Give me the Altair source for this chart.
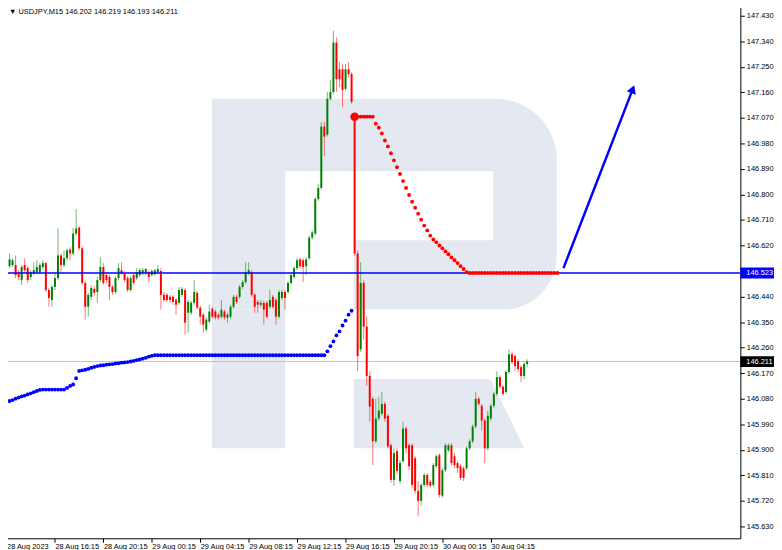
import json
import altair as alt
import pandas as pd

# ---------------- data ----------------
symbol_text = "▼ USDJPY,M15  146.202 146.219 146.193 146.211"

time_labels = ["28 Aug 2023", "28 Aug 16:15", "28 Aug 20:15", "29 Aug 00:15",
               "29 Aug 04:15", "29 Aug 08:15", "29 Aug 12:15", "29 Aug 16:15",
               "29 Aug 20:15", "30 Aug 00:15", "30 Aug 04:15"]
label_bars = [0, 16, 32, 48, 64, 80, 96, 112, 128, 144, 160]

price_ticks = [147.430, 147.340, 147.250, 147.160, 147.070, 146.980, 146.890,
               146.800, 146.710, 146.620, 146.440, 146.350, 146.260, 146.170,
               146.080, 145.990, 145.900, 145.810, 145.720, 145.630]

opens = [
    146.585, 146.547, 146.551, 146.551, 146.526, 146.498, 146.551, 146.540, 146.509, 146.523,
    146.526, 146.526, 146.544, 146.558, 146.463, 146.428, 146.474, 146.505, 146.585, 146.551,
    146.575, 146.606, 146.592, 146.662, 146.683, 146.610, 146.488, 146.404, 146.439, 146.467,
    146.456, 146.498, 146.544, 146.516, 146.509, 146.474, 146.456, 146.505, 146.533, 146.523,
    146.505, 146.463, 146.516, 146.505, 146.516, 146.523, 146.523, 146.526, 146.516, 146.519,
    146.526, 146.530, 146.446, 146.446, 146.439, 146.439, 146.428, 146.418, 146.446, 146.463,
    146.383, 146.383, 146.418, 146.453, 146.401, 146.376, 146.324, 146.352, 146.397, 146.387,
    146.376, 146.369, 146.387, 146.366, 146.369, 146.404, 146.439, 146.439, 146.474, 146.491,
    146.523, 146.526, 146.446, 146.421, 146.411, 146.418, 146.418, 146.404, 146.439, 146.428,
    146.369, 146.435, 146.456, 146.456, 146.488, 146.509, 146.540, 146.571, 146.568, 146.547,
    146.575, 146.648, 146.662, 146.784, 146.823, 147.039, 147.011, 147.137, 147.161, 147.335,
    147.241, 147.241, 147.172, 147.241, 147.224, 147.074, 146.592, 146.254, 146.488, 146.334,
    146.160, 146.080, 145.930, 146.010, 146.027, 146.062, 146.020, 145.916, 145.794, 145.895,
    145.790, 145.860, 145.975, 145.916, 145.916, 145.870, 145.755, 145.720, 145.776, 145.811,
    145.787, 145.776, 145.842, 145.881, 145.738, 145.828, 145.898, 145.916, 145.877, 145.853,
    145.842, 145.835, 145.835, 145.905, 145.930, 145.982, 146.080, 146.055, 146.003, 145.905,
    146.010, 146.055, 146.097, 146.156, 146.122, 146.104, 146.174, 146.237, 146.230, 146.212,
    146.191, 146.160, 146.202]

closes = [
    146.526, 146.571, 146.568, 146.516, 146.509, 146.544, 146.533, 146.498, 146.526, 146.533,
    146.544, 146.551, 146.558, 146.463, 146.435, 146.474, 146.505, 146.585, 146.551, 146.575,
    146.603, 146.592, 146.662, 146.680, 146.610, 146.488, 146.404, 146.446, 146.470, 146.453,
    146.498, 146.544, 146.488, 146.498, 146.474, 146.456, 146.505, 146.540, 146.523, 146.498,
    146.463, 146.505, 146.488, 146.526, 146.533, 146.533, 146.537, 146.509, 146.530, 146.533,
    146.537, 146.446, 146.428, 146.428, 146.428, 146.421, 146.411, 146.463, 146.467, 146.348,
    146.421, 146.418, 146.456, 146.401, 146.369, 146.341, 146.359, 146.387, 146.369, 146.366,
    146.366, 146.394, 146.366, 146.376, 146.404, 146.439, 146.421, 146.474, 146.491, 146.526,
    146.533, 146.446, 146.404, 146.411, 146.418, 146.394, 146.369, 146.428, 146.404, 146.369,
    146.456, 146.456, 146.435, 146.488, 146.516, 146.540, 146.568, 146.547, 146.544, 146.571,
    146.648, 146.666, 146.784, 146.823, 147.039, 147.004, 147.137, 147.161, 147.335, 147.206,
    147.206, 147.168, 147.241, 147.224, 147.126, 146.592, 146.230, 146.488, 146.334, 146.160,
    146.052, 145.930, 146.010, 146.038, 146.062, 146.010, 145.912, 145.794, 145.888, 145.825,
    145.853, 145.975, 145.905, 145.842, 145.776, 145.755, 145.720, 145.776, 145.811, 145.776,
    145.773, 145.846, 145.877, 145.741, 145.828, 145.916, 145.916, 145.853, 145.846, 145.835,
    145.801, 145.801, 145.905, 145.930, 145.982, 146.080, 146.062, 146.003, 145.905, 146.020,
    146.055, 146.097, 146.156, 146.122, 146.097, 146.174, 146.237, 146.209, 146.195, 146.184,
    146.160, 146.202, 146.211]

highs = [
    146.603, 146.592, 146.575, 146.585, 146.533, 146.551, 146.575, 146.547, 146.533, 146.561,
    146.568, 146.558, 146.568, 146.561, 146.470, 146.481, 146.526, 146.680, 146.592, 146.603,
    146.610, 146.613, 146.683, 146.749, 146.687, 146.617, 146.495, 146.453, 146.481, 146.477,
    146.509, 146.578, 146.558, 146.526, 146.516, 146.481, 146.512, 146.558, 146.561, 146.530,
    146.512, 146.512, 146.523, 146.540, 146.540, 146.540, 146.540, 146.533, 146.537, 146.537,
    146.551, 146.540, 146.456, 146.453, 146.446, 146.446, 146.435, 146.474, 146.474, 146.470,
    146.428, 146.425, 146.498, 146.460, 146.408, 146.383, 146.366, 146.411, 146.404, 146.394,
    146.383, 146.428, 146.394, 146.383, 146.411, 146.446, 146.446, 146.481, 146.498, 146.561,
    146.561, 146.533, 146.453, 146.428, 146.428, 146.425, 146.425, 146.463, 146.446, 146.435,
    146.463, 146.463, 146.463, 146.495, 146.523, 146.547, 146.575, 146.578, 146.575, 146.578,
    146.655, 146.673, 146.791, 146.837, 147.056, 147.056, 147.161, 147.203, 147.377, 147.353,
    147.266, 147.259, 147.259, 147.266, 147.231, 147.081, 146.603, 146.561, 146.498, 146.369,
    146.177, 146.087, 146.080, 146.087, 146.104, 146.069, 146.027, 145.923, 145.905, 145.905,
    145.863, 145.999, 145.982, 145.923, 145.923, 145.877, 145.790, 145.783, 145.818, 145.818,
    145.794, 145.853, 145.884, 145.888, 145.835, 145.923, 145.923, 145.923, 145.888, 145.860,
    145.849, 145.842, 145.912, 145.937, 145.989, 146.104, 146.087, 146.062, 146.010, 146.038,
    146.062, 146.104, 146.177, 146.163, 146.128, 146.181, 146.254, 146.247, 146.237, 146.219,
    146.198, 146.209, 146.219]

lows = [
    146.516, 146.540, 146.544, 146.505, 146.498, 146.481, 146.526, 146.488, 146.498, 146.516,
    146.519, 146.519, 146.537, 146.456, 146.404, 146.404, 146.463, 146.498, 146.523, 146.544,
    146.568, 146.568, 146.585, 146.655, 146.603, 146.481, 146.359, 146.369, 146.428, 146.442,
    146.418, 146.491, 146.481, 146.488, 146.428, 146.446, 146.449, 146.498, 146.516, 146.491,
    146.456, 146.456, 146.481, 146.498, 146.509, 146.516, 146.516, 146.491, 146.509, 146.512,
    146.519, 146.394, 146.421, 146.421, 146.418, 146.411, 146.376, 146.411, 146.439, 146.306,
    146.313, 146.376, 146.411, 146.394, 146.341, 146.313, 146.317, 146.345, 146.362, 146.359,
    146.359, 146.362, 146.359, 146.348, 146.362, 146.397, 146.414, 146.432, 146.467, 146.484,
    146.516, 146.439, 146.383, 146.383, 146.404, 146.341, 146.362, 146.397, 146.397, 146.341,
    146.362, 146.428, 146.394, 146.449, 146.481, 146.502, 146.533, 146.540, 146.491, 146.516,
    146.568, 146.641, 146.655, 146.777, 146.816, 146.934, 147.004, 147.130, 147.154, 147.161,
    147.178, 147.109, 147.165, 147.213, 147.119, 146.585, 146.177, 146.244, 146.289, 146.125,
    145.999, 145.846, 145.923, 146.003, 146.020, 145.999, 145.905, 145.783, 145.773, 145.815,
    145.780, 145.853, 145.888, 145.828, 145.766, 145.745, 145.668, 145.703, 145.769, 145.769,
    145.766, 145.769, 145.835, 145.731, 145.731, 145.821, 145.891, 145.842, 145.835, 145.818,
    145.794, 145.790, 145.828, 145.898, 145.923, 145.975, 146.055, 145.968, 145.853, 145.898,
    146.003, 146.048, 146.090, 146.115, 146.090, 146.097, 146.167, 146.202, 146.177, 146.174,
    146.139, 146.149, 146.193]

# blue dotted indicator, one value per bar from bar 0
blue_dots = [
    146.068, 146.072, 146.075, 146.080, 146.084, 146.088, 146.091, 146.095, 146.099, 146.103,
    146.107, 146.111, 146.112, 146.112, 146.112, 146.112, 146.112, 146.112, 146.112, 146.112,
    146.118, 146.125, 146.130, 146.152, 146.178, 146.180, 146.182, 146.185, 146.189, 146.192,
    146.195, 146.197, 146.198, 146.200, 146.201, 146.202, 146.204, 146.205, 146.207, 146.208,
    146.209, 146.211, 146.213, 146.216, 146.218, 146.221, 146.224, 146.228, 146.231] + \
    [146.233] * 57 + [
    146.247, 146.265, 146.282, 146.303, 146.317, 146.338, 146.355, 146.376, 146.390]

# red dotted indicator, one value per bar from bar 115
red_start = 115
red_dots = [147.074] * 7 + [
    147.049, 147.035, 147.015, 146.990, 146.969, 146.945, 146.920, 146.896, 146.872, 146.847,
    146.823, 146.798, 146.774, 146.753, 146.732, 146.711, 146.690, 146.673, 146.655, 146.641,
    146.631, 146.620, 146.610, 146.599, 146.589, 146.578, 146.568, 146.558, 146.547, 146.537,
    146.526] + [146.523] * 30

level_line = 146.523
last_price = 146.211

arrow_bars = [184.0, 206.9]
arrow_prices = [146.540, 147.171]

# chart-shift marker at the top (last bar)
shift_marker = {"i": 172.1, "p": 147.463}

# watermark "R" outline (bar index / price units)
wm_bowl = {"x0": 67.9, "x1": 181.8, "y0": 147.137, "y1": 146.394}
wm_holes = [(92.1, 160.8, 146.882, 146.638), (92.1, 114.7, 146.638, 146.394)]
wm_stem = (67.9, 92.1, 146.394, 145.905)
wm_leg_y = [146.149, 145.905]
wm_leg_right = [159.8, 171.1]
wm_leg_left = [114.7, 114.7]

# ---------------- build tables ----------------
n = len(opens)
candles = pd.DataFrame({"i": list(range(n)), "open": opens, "close": closes,
                        "high": highs, "low": lows})
candles["dir"] = ["up" if c >= o else "down" for o, c in zip(opens, closes)]

blue_df = pd.DataFrame({"i": list(range(len(blue_dots))), "p": blue_dots})
red_df = pd.DataFrame({"i": [red_start + k for k in range(len(red_dots))], "p": red_dots})
arrow_df = pd.DataFrame({"i": arrow_bars, "p": arrow_prices})

GREEN = "#008000"
RED = "#ff0000"
WM = "#e4e9f1"
FONT = "Liberation Sans"

xs = alt.Scale(domain=[0.161, 240.806], nice=False, zero=False)
ys = alt.Scale(domain=[145.588, 147.475], nice=False, zero=False)

label_expr = json.dumps(time_labels) + "[round(datum.value / 16)]"
x_axis = alt.Axis(values=label_bars, labelExpr=label_expr, orient="bottom",
                  tickSize=4, labelAlign="left", labelPadding=0,
                  labelFontSize=7.5, labelFont=FONT, labelColor="#000000",
                  domainColor="#000000", tickColor="#000000", grid=False,
                  title=None, labelOverlap=False, labelFlush=False, labelBound=False)
y_axis = alt.Axis(values=price_ticks, format=".3f", orient="right", tickSize=4,
                  labelPadding=2, labelFontSize=7.5, labelFont=FONT,
                  labelColor="#000000", domainColor="#000000", tickColor="#000000",
                  grid=False, title=None)


def X(field):
    return alt.X(field, scale=xs, axis=x_axis, title=None)


def Y(field):
    return alt.Y(field, scale=ys, axis=y_axis, title=None)


color_scale = alt.Scale(domain=["up", "down"], range=[GREEN, RED])

# watermark
bowl = alt.Chart(pd.DataFrame([wm_bowl])).mark_rect(
    color=WM, cornerRadiusTopRight=62, cornerRadiusBottomRight=55
).encode(x=X("x0:Q"), x2="x1:Q", y=Y("y0:Q"), y2="y1:Q")

holes = alt.Chart(pd.DataFrame(wm_holes, columns=["x0", "x1", "y0", "y1"])).mark_rect(
    color="#ffffff").encode(x=X("x0:Q"), x2="x1:Q", y=Y("y0:Q"), y2="y1:Q")

stem = alt.Chart(pd.DataFrame([wm_stem], columns=["x0", "x1", "y0", "y1"])).mark_rect(
    color=WM).encode(x=X("x0:Q"), x2="x1:Q", y=Y("y0:Q"), y2="y1:Q")

leg = alt.Chart(pd.DataFrame({"y": wm_leg_y, "xr": wm_leg_right, "xl": wm_leg_left})).mark_area(
    color=WM, orient="horizontal", opacity=1).encode(
    y=Y("y:Q"), x=X("xr:Q"), x2="xl:Q")

grey_line = alt.Chart(pd.DataFrame({"p": [last_price]})).mark_rule(
    color="#c4c4c4", strokeWidth=1).encode(y=Y("p:Q"))

wicks = alt.Chart(candles).mark_rule(strokeWidth=1, opacity=0.55).encode(
    x=X("i:Q"), y=Y("low:Q"), y2="high:Q",
    color=alt.Color("dir:N", scale=color_scale, legend=None))

bodies = alt.Chart(candles).mark_bar(size=2).encode(
    x=X("i:Q"), y=Y("open:Q"), y2="close:Q",
    color=alt.Color("dir:N", scale=color_scale, legend=None))

blue_line = alt.Chart(pd.DataFrame({"p": [level_line]})).mark_rule(
    color="#0000ff", strokeWidth=1.5).encode(y=Y("p:Q"))

blue_pts = alt.Chart(blue_df).mark_circle(size=15, color="#0000ff", opacity=1).encode(
    x=X("i:Q"), y=Y("p:Q"))

red_pts = alt.Chart(red_df).mark_circle(size=15, color=RED, opacity=1).encode(
    x=X("i:Q"), y=Y("p:Q"))

red_big = alt.Chart(red_df.head(1)).mark_circle(size=75, color=RED, opacity=1).encode(
    x=X("i:Q"), y=Y("p:Q"))

arrow_shaft = alt.Chart(arrow_df).mark_line(color="#0000ff", strokeWidth=2.5).encode(
    x=X("i:Q"), y=Y("p:Q"))

arrow_head = alt.Chart(arrow_df.tail(1)).mark_point(
    shape="triangle-up", filled=True, size=95, angle=21, color="#0000ff", opacity=1
).encode(x=X("i:Q"), y=Y("p:Q"))

marker = alt.Chart(pd.DataFrame([shift_marker])).mark_point(
    shape="triangle-down", filled=True, size=30, color="#a8a8a8", opacity=1
).encode(x=X("i:Q"), y=Y("p:Q"))

box_df = pd.DataFrame({"p": [level_line, last_price],
                       "hi": [level_line + 0.019, last_price + 0.019],
                       "lo": [level_line - 0.019, last_price - 0.019],
                       "txt": ["146.523", "146.211"],
                       "fill": ["#0000ff", "#000000"]})
boxes = alt.Chart(box_df).mark_rect().encode(
    x=alt.value(746), x2=alt.value(781),
    y=Y("hi:Q"), y2="lo:Q",
    color=alt.Color("fill:N", scale=None))
box_text = alt.Chart(box_df).mark_text(
    align="left", baseline="middle", fontSize=7.5, font=FONT, color="#ffffff"
).encode(x=alt.value(752), y=Y("p:Q"), text="txt:N")

title_text = alt.Chart(pd.DataFrame({"t": [symbol_text]})).mark_text(
    align="left", baseline="middle", fontSize=7.5, font=FONT, color="#000000"
).encode(x=alt.value(7), y=alt.value(9), text="t:N")

chart = alt.layer(
    bowl, holes, stem, leg, grey_line, wicks, bodies, blue_line,
    blue_pts, red_pts, red_big, arrow_shaft, arrow_head, marker,
    boxes, box_text, title_text
).properties(
    width=746, height=541,
    autosize=alt.AutoSizeParams(type="none"),
    padding={"left": -6, "top": -8, "right": 34, "bottom": 9},
    background="#ffffff"
).configure_view(stroke=None)

chart.save("out.html", embed_options={"renderer": "svg", "actions": False})
